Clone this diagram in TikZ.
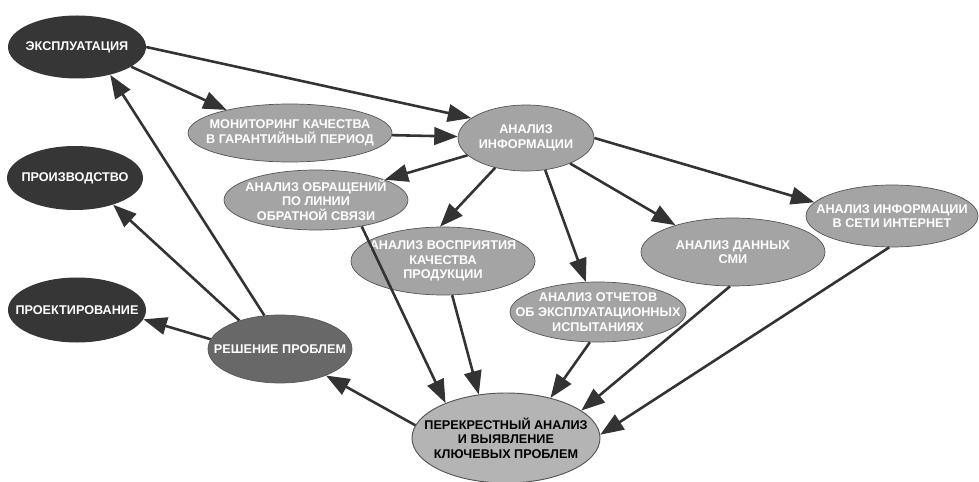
\documentclass[tikz,border=0pt]{standalone}
\usepackage{fontspec}
\setmainfont{Liberation Sans}
\usetikzlibrary{shapes.geometric,arrows.meta}
\definecolor{darkfill}{HTML}{363636}
\definecolor{greyfill}{HTML}{A4A4A4}
\definecolor{greyline}{HTML}{555555}
\definecolor{midfill}{HTML}{686868}
\definecolor{crossfill}{HTML}{B4B4B4}
\definecolor{arrowgrey}{HTML}{333333}

\begin{document}
\begin{tikzpicture}[x=0.03cm, y=-0.03cm,
  % size of an ellipse comes from minimum width/height only
  blob/.style={ellipse, inner xsep=-3cm, inner ysep=-2cm, align=center,
    font=\bfseries\fontsize{10.8}{12.5}\selectfont},
  darknode/.style={blob, fill=darkfill, text=white},
  greynode/.style={blob, fill=greyfill, draw=greyline, line width=0.6pt, text=white},
  solvenode/.style={blob, fill=midfill, draw=greyline, line width=0.6pt, text=white},
  crossnode/.style={blob, fill=crossfill, draw=greyline, line width=0.8pt, text=black},
  arr/.style={draw=arrowgrey, line width=2.2pt, -{Triangle[length=20pt,width=15pt]}}]
  \useasboundingbox (0,0) rectangle (979,482);

  % left column
  \node[darknode, minimum width=4.14cm, minimum height=1.89cm] (expl) at (77,47) {ЭКСПЛУАТАЦИЯ};
  \node[darknode, minimum width=4.08cm, minimum height=1.92cm] (proizv) at (75,178) {ПРОИЗВОДСТВО};
  \node[darknode, minimum width=4.14cm, minimum height=1.95cm] (proekt) at (77,310) {ПРОЕКТИРОВАНИЕ};
  \node[solvenode, minimum width=4.32cm, minimum height=2.04cm] (resh) at (280,349) {РЕШЕНИЕ ПРОБЛЕМ};

  % sources of information
  \node[greynode, minimum width=6.12cm, minimum height=1.74cm] (mon) at (290,133) {МОНИТОРИНГ КАЧЕСТВА\\В ГАРАНТИЙНЫЙ ПЕРИОД};
  \node[greynode, minimum width=4.08cm, minimum height=1.98cm] (info) at (526,138) {АНАЛИЗ\\ИНФОРМАЦИИ};
  \node[greynode, minimum width=5.52cm, minimum height=1.80cm] (obr) at (316,200) {АНАЛИЗ ОБРАЩЕНИЙ\\ПО ЛИНИИ\\ОБРАТНОЙ СВЯЗИ};
  \node[greynode, minimum width=5.52cm, minimum height=2.04cm] (vospr) at (443,261) {АНАЛИЗ ВОСПРИЯТИЯ\\КАЧЕСТВА\\ПРОДУКЦИИ};
  \node[greynode, minimum width=5.28cm, minimum height=1.80cm] (otch) at (598,312) {АНАЛИЗ ОТЧЕТОВ\\ОБ ЭКСПЛУАТАЦИОННЫХ\\ИСПЫТАНИЯХ};
  \node[greynode, minimum width=5.52cm, minimum height=2.04cm] (smi) at (733,252) {АНАЛИЗ ДАННЫХ\\СМИ};
  \node[greynode, minimum width=5.16cm, minimum height=1.86cm] (inet) at (892,216) {АНАЛИЗ ИНФОРМАЦИИ\\В СЕТИ ИНТЕРНЕТ};

  \node[crossnode, minimum width=5.64cm, minimum height=2.70cm] (per) at (506,438) {ПЕРЕКРЕСТНЫЙ АНАЛИЗ\\И ВЫЯВЛЕНИЕ\\КЛЮЧЕВЫХ ПРОБЛЕМ};

  % arrows
  \draw[arr] (expl.east) -- (info.160);
  \draw[arr] (expl.-20) -- (mon.160);
  \draw[arr] (mon) -- (info);
  \draw[arr] (info) -- (obr);
  \draw[arr] (info.-136) -- (vospr.95);
  \draw[arr] (info.-59) -- (otch.112);
  \draw[arr] (info.-30) -- (smi.155);
  \draw[arr] (info.east) -- (inet.170);
  \draw[arr] (obr.-30) -- (per.150);
  \draw[arr] (vospr.-75) -- (per.122);
  \draw[arr] (otch.-105) -- (per.42);
  \draw[arr] (smi.-95) -- (per.20);
  \draw[arr] (inet.-95) -- (per.2);
  \draw[arr] (per.172) -- (resh.-30);
  \draw[arr] (resh.172) -- (proekt.-8);
  \draw[arr] (resh.145) -- (proizv.-35);
  \draw[arr] (resh.115) -- (expl.-40);
\end{tikzpicture}
\end{document}
